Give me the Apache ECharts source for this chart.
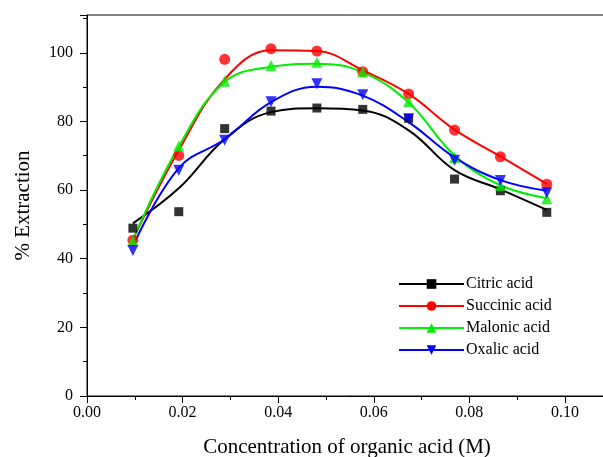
<!DOCTYPE html>
<html>
<head>
<meta charset="utf-8">
<title>% Extraction vs concentration</title>
<script src="https://cdn.jsdelivr.net/npm/echarts@6/dist/echarts.min.js"></script>
<style type="text/css">
	html, body { margin: 0; padding: 0; background: #fff; }
	#main { width: 603px; height: 457px; }
</style>
</head>
<body>
<div id="main"></div>
<script type="text/javascript">
	// concentration (M)
	var conc = [0.0096, 0.0192, 0.0288, 0.0385, 0.0481, 0.0577, 0.0673, 0.0769, 0.0865, 0.0962];

	// measured points
	var citric   = [48.9, 53.7, 77.9, 83.0, 83.9, 83.5, 80.9, 63.2, 59.8, 53.5];
	var succinic = [45.4, 70.1, 98.1, 101.2, 100.5, 94.5, 88.0, 77.5, 69.7, 61.7];
	var malonic  = [45.3, 72.8, 91.7, 96.3, 97.2, 94.4, 85.8, 69.5, 61.3, 57.5];
	var oxalic   = [42.4, 65.8, 74.5, 85.7, 91.0, 87.8, 80.8, 68.7, 62.8, 59.2];

	// fitted curves, read at the same concentrations
	var citricFit   = [50.3, 60.5, 74.8, 82.7, 83.8, 83.2, 77.4, 65.8, 60.2, 54.2];
	var succinicFit = [45.6, 71.6, 92.3, 100.7, 100.5, 94.9, 88.0, 77.6, 69.8, 61.8];
	var malonicFit  = [45.5, 72.7, 91.5, 95.9, 96.8, 94.3, 85.5, 70.1, 61.4, 57.6];
	var oxalicFit   = [43.6, 66.4, 74.8, 85.6, 90.1, 87.5, 79.8, 69.5, 62.9, 59.8];

	var names = ['Citric acid', 'Succinic acid', 'Malonic acid', 'Oxalic acid'];
	var colors = ['#000000', '#ff0000', '#00ee00', '#0000ff'];
	var symbols = ['rect', 'circle', 'triangle', 'path://M0,0 L10,0 L5,9 Z'];
	var points = [citric, succinic, malonic, oxalic];
	var fits = [citricFit, succinicFit, malonicFit, oxalicFit];

	function pairs(ys) {
		var out = [];
		for (var i = 0; i < conc.length; i++) {
			out.push([conc[i], ys[i]]);
		}
		return out;
	}

	var series = [];
	for (var i = 0; i < names.length; i++) {
		series.push({
			name: names[i],
			type: 'line',
			smooth: 0.4,
			data: pairs(fits[i]),
			symbol: symbols[i],
			symbolSize: 11,
			showSymbol: false,
			lineStyle: { color: colors[i], width: 2 },
			itemStyle: { color: colors[i] },
			z: 2
		});
	}
	for (var i = 0; i < names.length; i++) {
		series.push({
			name: names[i],
			type: 'scatter',
			data: pairs(points[i]),
			symbol: symbols[i],
			symbolSize: i == 0 ? 9 : 11,
			itemStyle: { color: colors[i] },
			z: 3
		});
	}

	var font = 'Liberation Serif, Times New Roman, serif';
	var myChart = echarts.init(document.getElementById('main'));
	var option = {
		animation: false,
		backgroundColor: '#fff',
		grid: {
			left: 87, top: 15, right: -4, bottom: 61,
			containLabel: false,
			outerBoundsMode: 'none',
			show: true, borderColor: '#000', borderWidth: 1
		},
		legend: {
			orient: 'vertical',
			left: 393, top: 271,
			itemWidth: 65, itemHeight: 12, itemGap: 6,
			data: names,
			textStyle: { fontFamily: font, fontSize: 16, color: '#000', padding: [0, 0, 0, -3] }
		},
		xAxis: {
			type: 'value',
			min: 0, max: 0.1088, interval: 0.02,
			name: 'Concentration of organic acid (M)',
			nameLocation: 'middle', nameGap: 41,
			nameTextStyle: { fontFamily: font, fontSize: 21, color: '#000' },
			splitLine: { show: false },
			axisLine: { lineStyle: { color: '#000', width: 1 } },
			axisTick: { length: 7, lineStyle: { color: '#000' } },
			minorTick: { show: true, splitNumber: 2, length: 4, lineStyle: { color: '#000' } },
			axisLabel: {
				fontFamily: font, fontSize: 16, color: '#000', margin: 9,
				showMaxLabel: false,
				formatter: function (v) { return v.toFixed(2); }
			}
		},
		yAxis: {
			type: 'value',
			min: 0, max: 111, interval: 20,
			name: '% Extraction',
			nameLocation: 'middle', nameGap: 53,
			nameTextStyle: { fontFamily: font, fontSize: 21, color: '#000' },
			splitLine: { show: false },
			axisLine: { lineStyle: { color: '#000', width: 1 } },
			axisTick: { length: 7, lineStyle: { color: '#000' } },
			minorTick: { show: true, splitNumber: 2, length: 4, lineStyle: { color: '#000' } },
			axisLabel: {
				fontFamily: font, fontSize: 16, color: '#000', margin: 14,
				showMaxLabel: false
			}
		},
		series: series
	};
	myChart.setOption(option);
</script>
</body>
</html>
